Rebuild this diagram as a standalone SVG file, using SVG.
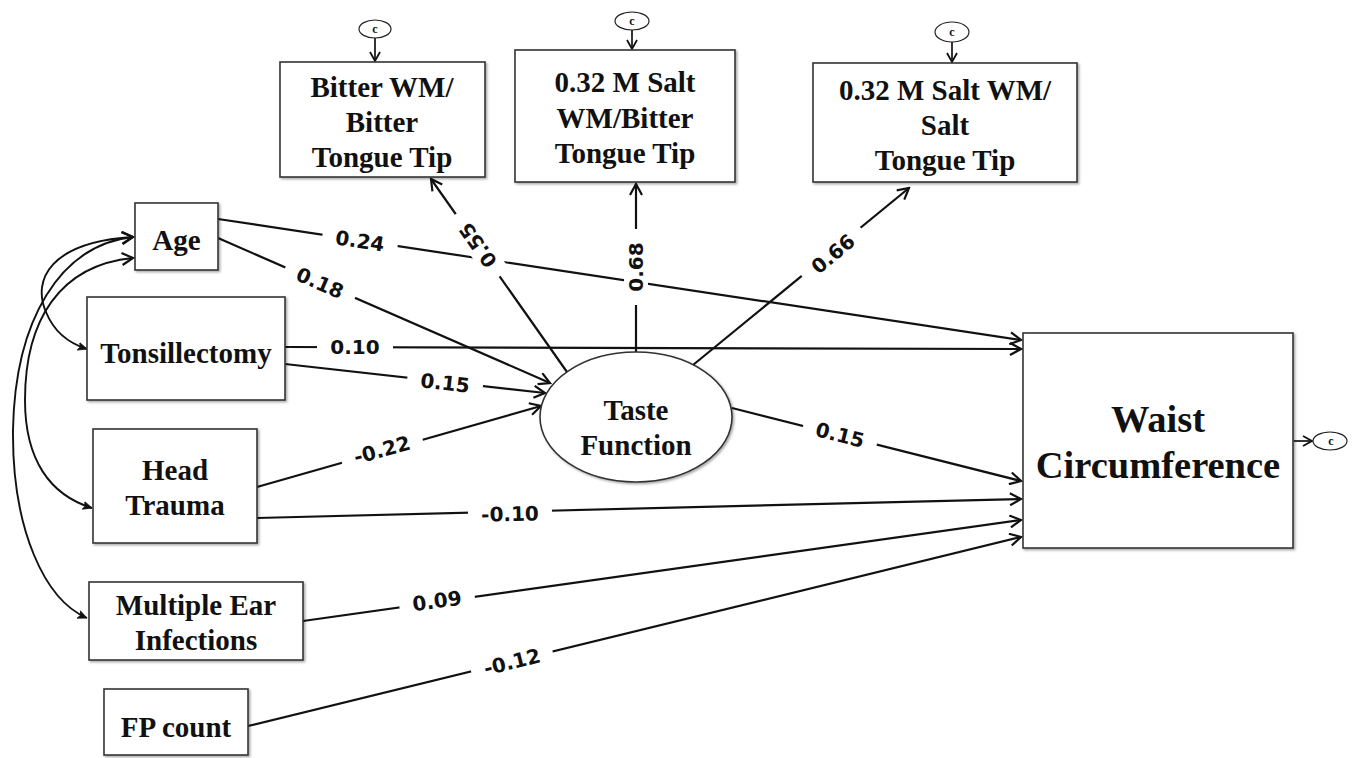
<svg xmlns="http://www.w3.org/2000/svg" width="1355" height="758" viewBox="0 0 1355 758">
<style>
.box{fill:#fff;stroke:#333;stroke-width:1.6;filter:url(#sh)}
.nt{font-family:"Liberation Serif","Times New Roman",serif;font-weight:bold;font-size:29px;fill:#111;text-anchor:middle}
.big{font-size:38.5px}
.ln{fill:none;stroke:#111;stroke-width:2.2;marker-end:url(#ah)}
.cv{fill:none;stroke:#111;stroke-width:1.9;marker-start:url(#ahf);marker-end:url(#ah)}
.lb text{font-family:"DejaVu Sans",Verdana,sans-serif;font-weight:bold;font-size:20px;fill:#111;text-anchor:middle}
.lb rect{fill:#fff}
.res ellipse{fill:#fff;stroke:#222;stroke-width:1.2}
.res text{font-family:"Liberation Serif",serif;font-size:12px;font-weight:bold;fill:#111;text-anchor:middle}
.rl{fill:none;stroke:#111;stroke-width:1.7;marker-end:url(#ahs)}
</style>
<defs>
<filter id="sh" x="-5%" y="-5%" width="110%" height="115%">
<feDropShadow dx="1.5" dy="1.5" stdDeviation="1" flood-color="#000" flood-opacity="0.35"/>
</filter>
<marker id="ah" markerUnits="userSpaceOnUse" viewBox="0 0 14 14" refX="12" refY="7" markerWidth="14" markerHeight="14" orient="auto">
<path d="M1,1 L12,7 L1,13" fill="none" stroke="#111" stroke-width="2.2"/>
</marker>
<marker id="ahf" markerUnits="userSpaceOnUse" viewBox="0 0 10 10" refX="9" refY="5" markerWidth="10" markerHeight="10" orient="auto-start-reverse">
<path d="M0,1 L9,5 L0,9 L2,5 Z" fill="#111" stroke="#111" stroke-width="0.8"/>
</marker>
<marker id="ahs" markerUnits="userSpaceOnUse" viewBox="0 0 12 12" refX="10" refY="6" markerWidth="12" markerHeight="12" orient="auto">
<path d="M1,1 L10,6 L1,11" fill="none" stroke="#111" stroke-width="1.8"/>
</marker>
</defs>
<rect width="1355" height="758" fill="#fff"/>

<g id="connectors">
<line class="ln" x1="218" y1="219" x2="1021" y2="340"/>
<line class="ln" x1="218" y1="238" x2="550" y2="383"/>
<line class="ln" x1="285" y1="347" x2="1021" y2="349"/>
<line class="ln" x1="285" y1="364" x2="545" y2="393"/>
<line class="ln" x1="257" y1="487" x2="541" y2="406"/>
<line class="ln" x1="257" y1="518" x2="1021" y2="499"/>
<line class="ln" x1="732" y1="408" x2="1021" y2="481"/>
<line class="ln" x1="303" y1="621" x2="1021" y2="520"/>
<line class="ln" x1="248" y1="726" x2="1021" y2="537"/>
<line class="ln" x1="567" y1="372" x2="431" y2="179"/>
<line class="ln" x1="636" y1="352" x2="636" y2="184"/>
<line class="ln" x1="693" y1="365" x2="909" y2="188"/>
<path class="cv" d="M87 349 C68 343, 54 332, 46 312 C32 280, 50 242, 133 237"/>
<path class="cv" d="M87 618 C45 600, 12 530, 13 430 C15 320, 60 245, 133 237"/>
<path class="cv" d="M92 508 C50 495, 25 460, 25 400 C25 320, 60 265, 133 258"/>
<line class="rl" x1="375" y1="38" x2="375" y2="61"/>
<line class="rl" x1="632" y1="30" x2="632" y2="49"/>
<line class="rl" x1="952" y1="42" x2="952" y2="62"/>
<line class="rl" x1="1294" y1="441" x2="1312" y2="441"/>
</g>

<g id="labels" class="lb">
<g transform="translate(360,241) rotate(8.6)"><rect x="-38" y="-12" width="76" height="24"/><text y="7">0.24</text></g>
<g transform="translate(320,283) rotate(23.6)"><rect x="-38" y="-12" width="76" height="24"/><text y="7">0.18</text></g>
<g transform="translate(355,347)"><rect x="-38" y="-12" width="76" height="24"/><text y="7">0.10</text></g>
<g transform="translate(445,383) rotate(6.5)"><rect x="-38" y="-12" width="76" height="24"/><text y="7">0.15</text></g>
<g transform="translate(382,450) rotate(-15.3)"><rect x="-42" y="-12" width="84" height="24"/><text y="7">-0.22</text></g>
<g transform="translate(510,514) rotate(-1.4)"><rect x="-42" y="-12" width="84" height="24"/><text y="7">-0.10</text></g>
<g transform="translate(840,435) rotate(14.2)"><rect x="-38" y="-12" width="76" height="24"/><text y="7">0.15</text></g>
<g transform="translate(437,601) rotate(-8)"><rect x="-38" y="-12" width="76" height="24"/><text y="7">0.09</text></g>
<g transform="translate(512,662) rotate(-13.7)"><rect x="-42" y="-12" width="84" height="24"/><text y="7">-0.12</text></g>
<g transform="translate(478,245) rotate(-125.2)"><rect x="-38" y="-12" width="76" height="24"/><text y="7">0.55</text></g>
<g transform="translate(636,267) rotate(-90)"><rect x="-38" y="-12" width="76" height="24"/><text y="7">0.68</text></g>
<g transform="translate(833,254) rotate(-39.5)"><rect x="-38" y="-12" width="76" height="24"/><text y="7">0.66</text></g>
</g>

<g id="res-bitter" class="res"><ellipse cx="375" cy="29" rx="16" ry="9"/><text x="375" y="33">c</text></g>
<g id="res-saltbitter" class="res"><ellipse cx="632" cy="21" rx="17" ry="9"/><text x="632" y="25">c</text></g>
<g id="res-saltsalt" class="res"><ellipse cx="952" cy="32" rx="17" ry="10"/><text x="952" y="36">c</text></g>
<g id="res-waist" class="res"><ellipse cx="1330" cy="441" rx="17" ry="9"/><text x="1331" y="445">c</text></g>

<g id="node-bitter"><rect class="box" x="280" y="62" width="205" height="115"/>
<text class="nt" x="382" y="97">Bitter WM/</text><text class="nt" x="382" y="132">Bitter</text><text class="nt" x="382" y="167">Tongue Tip</text></g>
<g id="node-saltbitter"><rect class="box" x="515" y="50" width="220" height="132"/>
<text class="nt" x="625" y="92">0.32 M Salt</text><text class="nt" x="625" y="128">WM/Bitter</text><text class="nt" x="625" y="163">Tongue Tip</text></g>
<g id="node-saltsalt"><rect class="box" x="813" y="63" width="264" height="119"/>
<text class="nt" x="945" y="100">0.32 M Salt WM/</text><text class="nt" x="945" y="135">Salt</text><text class="nt" x="945" y="170">Tongue Tip</text></g>
<g id="node-age"><rect class="box" x="135" y="203" width="83" height="67"/>
<text class="nt" x="176.5" y="250">Age</text></g>
<g id="node-tonsil"><rect class="box" x="87" y="297" width="198" height="103"/>
<text class="nt" x="186" y="363">Tonsillectomy</text></g>
<g id="node-head"><rect class="box" x="93" y="429" width="164" height="114"/>
<text class="nt" x="175" y="480">Head</text><text class="nt" x="175" y="515">Trauma</text></g>
<g id="node-ear"><rect class="box" x="89" y="582" width="214" height="78"/>
<text class="nt" x="196" y="615">Multiple Ear</text><text class="nt" x="196" y="650">Infections</text></g>
<g id="node-fp"><rect class="box" x="104" y="689" width="144" height="66"/>
<text class="nt" x="176" y="737">FP count</text></g>
<g id="node-taste"><ellipse class="box" cx="636" cy="417" rx="96" ry="65"/>
<text class="nt" x="636" y="420">Taste</text><text class="nt" x="636" y="455">Function</text></g>
<g id="node-waist"><rect class="box" x="1023" y="333" width="270" height="215"/>
<text class="nt big" x="1158" y="432">Waist</text><text class="nt big" x="1158" y="478">Circumference</text></g>
</svg>
